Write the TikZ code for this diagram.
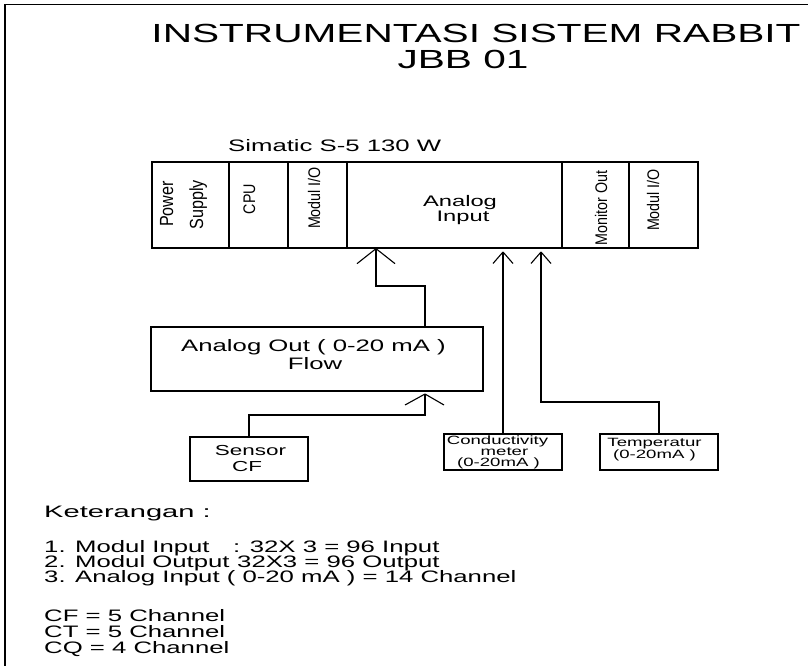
\documentclass[tikz,border=0pt]{standalone}
\usepackage{fontspec}
\usepackage{graphicx}
\setmainfont{Liberation Sans}[FakeStretch=1.55]
\newfontfamily\rotfont{Liberation Sans}[FakeStretch=0.85]
\begin{document}
\begin{tikzpicture}[x=1pt,y=-1pt,
  box/.style={draw, line width=1.3pt, inner sep=0pt, minimum width=#1},
  lbl/.style={inner sep=0pt, anchor=base},
  lblw/.style={inner sep=0pt, anchor=base west},
  rlbl/.style={inner sep=0pt, anchor=base, rotate=90, font=\rotfont\fontsize{16.8}{18}\selectfont},
  rbig/.style={rlbl, font=\rotfont\fontsize{19}{20}\selectfont},
  conn/.style={line width=1.3pt},
  ahead/.style={line width=1.1pt},
  ttl/.style={font=\fontsize{26.2}{30}\selectfont},
  body/.style={font=\fontsize{16.6}{18}\selectfont},
  small/.style={font=\fontsize{12}{13}\selectfont}]
\useasboundingbox (0,0) rectangle (808,666);
% frame
\draw[line width=1.8pt] (5,666) -- (5,4.5) -- (808,4.5);

% title
\node[lbl,ttl] (title1) at (476,43) {INSTRUMENTASI SISTEM RABBIT};
\node[lbl,ttl] (title2) at (463,69) {JBB 01};
\node[lblw,body] (simatic) at (228,151) {Simatic S-5 130 W};

% PLC modules (x 152..698, y 162..248)
\node[box=77pt, minimum height=86pt] (ps) at (190.5,205) {};
\node[box=59pt, minimum height=86pt] (cpu) at (258.5,205) {};
\node[box=59pt, minimum height=86pt] (mio1) at (317.5,205) {};
\node[box=215pt, minimum height=86pt] (ai) at (454.5,205) {};
\node[box=67pt, minimum height=86pt] (mon) at (595.5,205) {};
\node[box=69pt, minimum height=86pt] (mio2) at (663.5,205) {};

\node[rbig] (tpower) at (173,204) {Power};
\node[rbig] (tsupply) at (203,205) {Supply};
\node[rlbl] (tcpu) at (255,199) {CPU};
\node[rlbl] (tmio1) at (320,198) {Modul I/O};
\node[rlbl] (tmon) at (607,208) {Monitor Out};
\node[rlbl] (tmio2) at (659,200) {Modul I/O};
\node[lbl,font=\fontsize{15.3}{16}\selectfont] (tai1) at (460,206) {Analog};
\node[lbl,font=\fontsize{15.3}{16}\selectfont] (tai2) at (463,221) {Input};

% Analog out box (151..483, 327..391)
\node[box=332pt, minimum height=64pt] (aout) at (317,359) {};
\node[lbl,body] (taout1) at (313.5,351) {Analog Out ( 0-20 mA )};
\node[lbl,body] (taout2) at (315,369) {Flow};

% sensor boxes
\node[box=118pt, minimum height=44pt] (scf) at (249,459) {};
\node[lbl,font=\fontsize{14.5}{15}\selectfont] (tscf1) at (250.5,455) {Sensor};
\node[lbl,font=\fontsize{14.5}{15}\selectfont] (tscf2) at (247,471) {CF};

\node[box=118pt, minimum height=36pt] (cond) at (503,452) {};
\node[lbl,small] (tcond1) at (497.5,444) {Conductivity};
\node[lbl,small] (tcond2) at (504.5,455) {meter};
\node[lbl,small] (tcond3) at (498.5,466) {(0-20mA )};

\node[box=118pt, minimum height=36pt] (temp) at (659,452) {};
\node[lbl,small] (ttemp1) at (654.5,446) {Temperatur};
\node[lbl,small] (ttemp2) at (654.5,458) {(0-20mA )};

% x references
\coordinate (x376) at (376,0);
\coordinate (x425) at (425,0);
\coordinate (x249) at (249,0);
\coordinate (x503) at (503,0);
\coordinate (x541) at (541,0);
\coordinate (x659) at (659,0);

% tips
\coordinate (t1) at (ai.south -| x376);
\coordinate (t2) at (503,252);
\coordinate (t3) at (541,252);
\coordinate (t4) at (425,394);

% connector 1: Analog Out -> Analog Input
\draw[conn] (aout.north -| x425) |- (376,286) -- (t1);
\draw[ahead] (t1) -- ++(-19,15) (t1) -- ++(19,15);
% connector 2: Conductivity -> Analog Input
\draw[conn] (cond.north -| x503) -- (t2);
\draw[ahead] (t2) -- ++(-10,11.5) (t2) -- ++(10,11.5);
% connector 3: Temperatur -> Analog Input
\draw[conn] (temp.north -| x659) |- (541,402) -- (t3);
\draw[ahead] (t3) -- ++(-10,11.5) (t3) -- ++(10,11.5);
% connector 4: Sensor CF -> Analog Out
\draw[conn] (scf.north -| x249) |- (425,415) -- (t4);
\draw[ahead] (t4) -- ++(-20,11) (t4) -- ++(19,11);

% notes
\node[lblw,body] (ket) at (44,517) {\scalebox{1.13}[1]{Keterangan :}};
\node[lblw,body] (n1a) at (44,552) {1. Modul Input};
\node[lblw,body] (n1b) at (233,552) {: 32X 3 = 96 Input};
\node[lblw,body] (n2a) at (44,567) {2. Modul Output};
\node[lblw,body] (n2b) at (237,567) {32X3 = 96 Output};
\node[lblw,body] (n3) at (44,582) {3. Analog Input ( 0-20 mA ) = 14 Channel};
\node[lblw,body] (cf) at (44,621) {CF = 5 Channel};
\node[lblw,body] (ct) at (44,637) {CT = 5 Channel};
\node[lblw,body] (cq) at (44,653) {CQ = 4 Channel};
\end{tikzpicture}
\end{document}
